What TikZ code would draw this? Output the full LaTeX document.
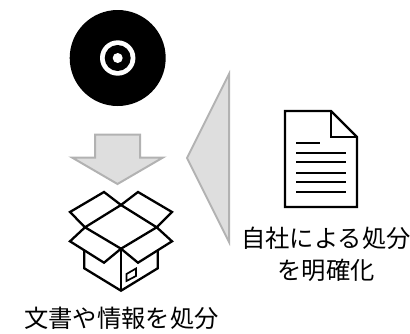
\documentclass[tikz,border=0pt]{standalone}
\usepackage{fontspec}
\setmainfont{Noto Sans CJK JP}
\tikzset{
  grayshape/.style={draw=black!30,fill=black!13,line width=2pt,line join=miter},
  iconline/.style={draw=black,line width=2.3pt,line join=miter,fill=none},
  docthick/.style={draw=black,line width=2.8pt},
  docthin/.style={draw=black,line width=1.9pt},
  jlabel/.style={inner sep=0pt,font=\fontsize{24.3pt}{32pt}\selectfont,text=black,align=center}
}
\begin{document}
\begin{tikzpicture}[x=1pt,y=-1pt]
\useasboundingbox (0,0) rectangle (410,333);
% disc
\fill[black] (117.7,58) circle[radius=48];
\fill[white] (117.7,58) circle[radius=17.7];
\fill[black] (117.7,58) circle[radius=13];
\fill[white] (117.7,58) circle[radius=5];
% down arrow
\path[grayshape] (95,134.5) -- (140,134.5) -- (140,157.5) -- (163,157.5) -- (117.5,184) -- (72,157.5) -- (95,157.5) -- cycle;
% left triangle
\path[grayshape] (229,74) -- (229,242) -- (187,158) -- cycle;
% document
\path[iconline] (285,111) -- (331,111) -- (357,137) -- (357,207) -- (285,207) -- cycle;
\path[iconline] (331,111) -- (331,137) -- (357,137);
\draw[docthick] (296,143) -- (320,143);
\draw[docthin] (296,153) -- (346,153);
\draw[docthick] (296,162) -- (346,162);
\draw[docthin] (296,173) -- (346,173);
\draw[docthick] (296,182) -- (346,182);
\draw[docthin] (296,192) -- (346,192);
% box
\path[iconline] (121,205) -- (156.7,227.3) -- (121,248.7) -- (85,227.3) -- cycle;
\path[iconline] (85,227.3) -- (70,212) -- (104,192) -- (121,205) -- (138,192) -- (172,212) -- (156.7,227.3);
\path[iconline] (85,227.3) -- (70,241.3) -- (104,262.7) -- (121,248.7) -- (138,262.7) -- (172,241.3) -- (156.7,227.3);
\path[iconline] (84.3,250) -- (84.3,268.3) -- (121,290.7) -- (157.7,268.3) -- (157.7,250);
\path[iconline] (121,248.7) -- (121,290.7);
\path[iconline,line width=1.7pt] (126.5,274) -- (136,268.5) -- (136,276) -- (126.5,281) -- cycle;
% labels
\node[jlabel] (boxlabel) at (121.5,318) {文書や情報を処分};
\node[jlabel] (doclabel) at (326,254) {自社による処分\\を明確化};
\end{tikzpicture}
\end{document}
